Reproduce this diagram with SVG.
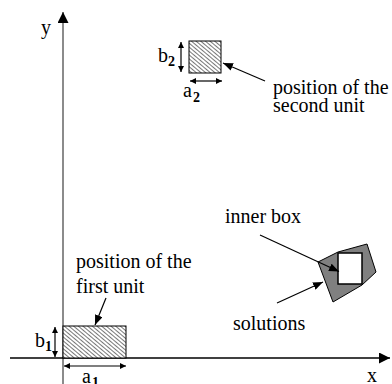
<svg xmlns="http://www.w3.org/2000/svg" width="392" height="384" viewBox="0 0 392 384" font-family="'Liberation Serif', 'Times New Roman', 'DejaVu Serif', serif">
<style>
.t{font-size:20px;fill:#000}
.s{font-size:14px;font-weight:bold;fill:#000}
.dim{stroke:#000;stroke-width:1.2;fill:none;marker-start:url(#dh);marker-end:url(#dh)}
.lab{stroke:#000;stroke-width:1.2;fill:none;marker-end:url(#lh)}
.unit{fill:url(#hatch);stroke:#000;stroke-width:1}
</style>
<defs>
<pattern id="hatch" patternUnits="userSpaceOnUse" width="3" height="3" patternTransform="rotate(40)">
<rect width="3" height="3" fill="#fff"/>
<line x1="0" y1="1.5" x2="3" y2="1.5" stroke="#555" stroke-width="0.8"/>
</pattern>
<marker id="ah" markerUnits="userSpaceOnUse" markerWidth="11" markerHeight="11" refX="10" refY="5" orient="auto" viewBox="0 0 10 10">
<path d="M0,0 L10,5 L0,10 z" fill="#000"/>
</marker>
<marker id="lh" markerUnits="userSpaceOnUse" markerWidth="10" markerHeight="8" refX="10" refY="4" orient="auto" viewBox="0 0 10 8">
<path d="M0,0 L10,4 L0,8 z" fill="#000"/>
</marker>
<marker id="dh" markerUnits="userSpaceOnUse" markerWidth="6" markerHeight="6" refX="6" refY="3" orient="auto-start-reverse" viewBox="0 0 6 6">
<path d="M0,0 L6,3 L0,6 z" fill="#000"/>
</marker>
</defs>

<g id="axes">
<line x1="63" y1="384" x2="63" y2="12" stroke="#6e6e6e" stroke-width="1.6" marker-end="url(#ah)"/>
<line x1="10" y1="358" x2="390" y2="358" stroke="#000" stroke-width="1.3" marker-end="url(#ah)"/>
<text class="t" x="41" y="34" font-family="Liberation Serif">y</text>
<text class="t" x="367" y="382" font-family="Liberation Serif">x</text>
</g>

<g id="unit2">
<rect class="unit" x="189" y="41" width="32" height="32"/>
<line class="dim" x1="181" y1="42" x2="181" y2="72"/>
<line class="dim" x1="190" y1="81" x2="222" y2="81"/>
<text class="t" x="158" y="62" font-family="Liberation Serif">b</text><text class="s" x="168" y="66" font-family="Liberation Serif">2</text>
<text class="t" x="183" y="97" font-family="Liberation Serif">a</text><text class="s" x="193" y="102" font-family="Liberation Serif">2</text>
</g>

<g id="unit1">
<rect class="unit" x="63" y="326" width="63" height="32"/>
<line class="dim" x1="55" y1="327" x2="55" y2="357"/>
<line class="dim" x1="64" y1="366" x2="126" y2="366"/>
<text class="t" x="35" y="347" font-family="Liberation Serif">b</text><text class="s" x="45" y="351" font-family="Liberation Serif">1</text>
<text class="t" x="82" y="383" font-family="Liberation Serif">a</text><text class="s" x="92" y="387" font-family="Liberation Serif">1</text>
</g>

<g id="solutions">
<path d="M318,262 L338,252 L367,244 L376,272 L362,285 L333,302 Z" fill="#808080" stroke="#000" stroke-width="1"/>
<rect id="inner-box" x="338" y="253" width="24" height="31" fill="#fff" stroke="#000" stroke-width="1.5"/>
</g>

<g id="label-second" font-family="Liberation Serif">
<text class="t" x="273" y="94">position of the</text>
<text class="t" x="273" y="112">second unit</text>
</g>
<g id="label-first" font-family="Liberation Serif">
<text class="t" x="76" y="268">position of the</text>
<text class="t" x="76" y="293">first unit</text>
</g>
<g id="label-inner" font-family="Liberation Serif">
<text class="t" x="225" y="223">inner box</text>
</g>
<g id="label-solutions" font-family="Liberation Serif">
<text class="t" x="233" y="330">solutions</text>
</g>

<g id="connectors">
<line class="lab" x1="265" y1="81" x2="223" y2="63"/>
<line class="lab" x1="106" y1="298" x2="95" y2="325"/>
<line class="lab" x1="260" y1="235" x2="339" y2="271.5"/>
<line class="lab" x1="277" y1="303" x2="323" y2="282"/>
</g>
</svg>
